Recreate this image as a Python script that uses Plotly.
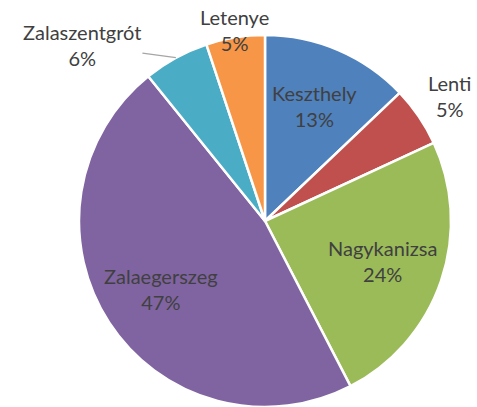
import math
import plotly.graph_objects as go

# ---- data ----
labels = ["Keszthely", "Lenti", "Nagykanizsa", "Zalaegerszeg", "Zalaszentgrót", "Letenye"]
values = [12.9, 5.2, 24.3, 46.8, 5.7, 5.1]
colors = ["#4F81BD", "#C0504D", "#9BBB59", "#8064A2", "#4BACC6", "#F79646"]

# ---- layout geometry (styling) ----
W, H = 477, 407
CX, CY, R = 265, 221, 186          # pie centre / radius in pixels
# per-slice label radius factor (style), and leader-line offsets for the moved label
label_r = [0.67, 1.2, 0.67, 0.67, 1.0, 1.04]
leader = {4: (-94, -13)}

fig = go.Figure(go.Pie(
    labels=labels, values=values, sort=False, direction="clockwise", rotation=0,
    marker=dict(colors=colors, line=dict(color="white", width=2.5)),
    textinfo="none", hoverinfo="label+percent", showlegend=False,
    domain=dict(x=[(CX - R) / W, (CX + R) / W], y=[0, (H - (CY - R)) / H]),
))

total = sum(values)
cum = 0.0
annotations = []
font = dict(family="Lato, Calibri, sans-serif", size=20, color="#404040")
for i, (lab, v) in enumerate(zip(labels, values)):
    mid = (cum + v / 2) / total * 2 * math.pi
    cum += v
    r = label_r[i] * R
    px = CX + r * math.sin(mid)
    py = CY - r * math.cos(mid)
    text = f"{lab}<br>{round(v / total * 100)}%"
    if i in leader:
        ax, ay = leader[i]
        annotations.append(dict(
            x=px / W, y=1 - py / H, xref="paper", yref="paper", text=text,
            showarrow=True, arrowhead=0, arrowwidth=1.3, arrowcolor="#A6A6A6",
            ax=ax, ay=ay, font=font, align="center", standoff=0,
        ))
    else:
        annotations.append(dict(
            x=px / W, y=1 - py / H, xref="paper", yref="paper", text=text,
            showarrow=False, font=font, align="center",
            xanchor="center", yanchor="middle",
        ))

fig.update_layout(
    width=W, height=H, margin=dict(l=0, r=0, t=0, b=0),
    paper_bgcolor="white", plot_bgcolor="white",
    annotations=annotations,
)

fig.write_html("out.html")
